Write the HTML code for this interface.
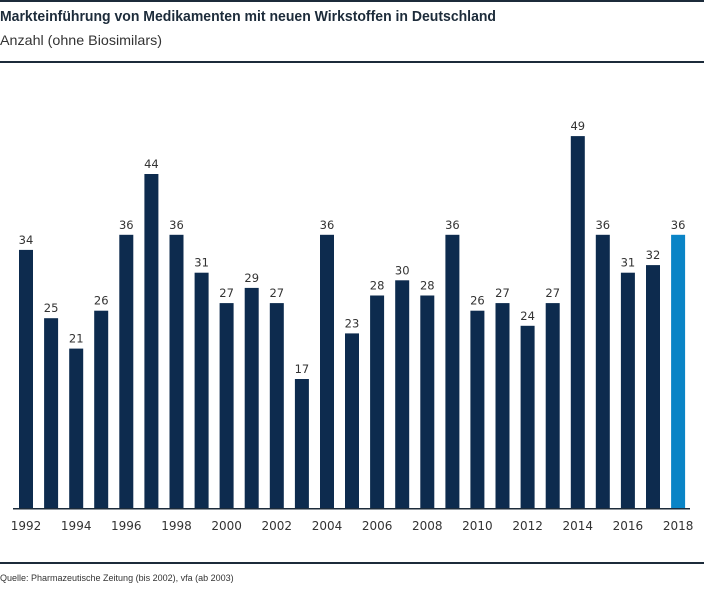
<!DOCTYPE html>
<html><head><meta charset="utf-8"><style>
body{margin:0;background:#fff;}
svg{display:block;}
.v{font-family:"DejaVu Sans","Liberation Sans",sans-serif;font-size:11.5px;fill:#333;text-anchor:middle;}
.y{font-family:"DejaVu Sans","Liberation Sans",sans-serif;font-size:12px;fill:#333;text-anchor:middle;}
</style></head><body>
<svg width="704" height="600" viewBox="0 0 704 600" xmlns="http://www.w3.org/2000/svg">
<rect x="0" y="0" width="704" height="2" fill="#1c2b3a"/>
<text x="0" y="21" font-size="14.5" font-weight="bold" fill="#1c2b3a" font-family="Liberation Sans, sans-serif" textLength="496" lengthAdjust="spacingAndGlyphs">Markteinführung von Medikamenten mit neuen Wirkstoffen in Deutschland</text>
<text x="0" y="45" font-size="14" fill="#333" font-family="Liberation Sans, sans-serif" textLength="162" lengthAdjust="spacingAndGlyphs">Anzahl (ohne Biosimilars)</text>
<rect x="0" y="61" width="704" height="2" fill="#1c2b3a"/>
<g fill="#0d2b4e">
<rect x="19" y="249.9" width="14" height="258.1"/>
<rect x="44.1" y="318.2" width="14" height="189.8"/>
<rect x="69.2" y="348.6" width="14" height="159.4"/>
<rect x="94.2" y="310.7" width="14" height="197.3"/>
<rect x="119.3" y="234.8" width="14" height="273.2"/>
<rect x="144.4" y="174" width="14" height="334"/>
<rect x="169.5" y="234.8" width="14" height="273.2"/>
<rect x="194.6" y="272.7" width="14" height="235.3"/>
<rect x="219.6" y="303.1" width="14" height="204.9"/>
<rect x="244.7" y="287.9" width="14" height="220.1"/>
<rect x="269.8" y="303.1" width="14" height="204.9"/>
<rect x="294.9" y="379" width="14" height="129"/>
<rect x="320" y="234.8" width="14" height="273.2"/>
<rect x="345" y="333.4" width="14" height="174.6"/>
<rect x="370.1" y="295.5" width="14" height="212.5"/>
<rect x="395.2" y="280.3" width="14" height="227.7"/>
<rect x="420.3" y="295.5" width="14" height="212.5"/>
<rect x="445.4" y="234.8" width="14" height="273.2"/>
<rect x="470.4" y="310.7" width="14" height="197.3"/>
<rect x="495.5" y="303.1" width="14" height="204.9"/>
<rect x="520.6" y="325.8" width="14" height="182.2"/>
<rect x="545.7" y="303.1" width="14" height="204.9"/>
<rect x="570.8" y="136.1" width="14" height="371.9"/>
<rect x="595.8" y="234.8" width="14" height="273.2"/>
<rect x="620.9" y="272.7" width="14" height="235.3"/>
<rect x="646" y="265.1" width="14" height="242.9"/>
</g>
<rect x="671.1" y="234.8" width="14" height="273.2" fill="#0a84c6"/>
<g class="v">
<text class="v" x="26" y="243.9">34</text>
<text class="v" x="51.1" y="312.2">25</text>
<text class="v" x="76.2" y="342.6">21</text>
<text class="v" x="101.2" y="304.7">26</text>
<text class="v" x="126.3" y="228.8">36</text>
<text class="v" x="151.4" y="168">44</text>
<text class="v" x="176.5" y="228.8">36</text>
<text class="v" x="201.6" y="266.7">31</text>
<text class="v" x="226.6" y="297.1">27</text>
<text class="v" x="251.7" y="281.9">29</text>
<text class="v" x="276.8" y="297.1">27</text>
<text class="v" x="301.9" y="373">17</text>
<text class="v" x="327" y="228.8">36</text>
<text class="v" x="352" y="327.4">23</text>
<text class="v" x="377.1" y="289.5">28</text>
<text class="v" x="402.2" y="274.3">30</text>
<text class="v" x="427.3" y="289.5">28</text>
<text class="v" x="452.4" y="228.8">36</text>
<text class="v" x="477.4" y="304.7">26</text>
<text class="v" x="502.5" y="297.1">27</text>
<text class="v" x="527.6" y="319.8">24</text>
<text class="v" x="552.7" y="297.1">27</text>
<text class="v" x="577.8" y="130.1">49</text>
<text class="v" x="602.8" y="228.8">36</text>
<text class="v" x="627.9" y="266.7">31</text>
<text class="v" x="653" y="259.1">32</text>
<text class="v" x="678.1" y="228.8">36</text>
</g>
<rect x="13" y="508" width="677" height="1.5" fill="#1c2b3a"/>
<text class="y" x="26" y="530">1992</text>
<text class="y" x="76.2" y="530">1994</text>
<text class="y" x="126.3" y="530">1996</text>
<text class="y" x="176.5" y="530">1998</text>
<text class="y" x="226.6" y="530">2000</text>
<text class="y" x="276.8" y="530">2002</text>
<text class="y" x="327" y="530">2004</text>
<text class="y" x="377.1" y="530">2006</text>
<text class="y" x="427.3" y="530">2008</text>
<text class="y" x="477.4" y="530">2010</text>
<text class="y" x="527.6" y="530">2012</text>
<text class="y" x="577.8" y="530">2014</text>
<text class="y" x="627.9" y="530">2016</text>
<text class="y" x="678.1" y="530">2018</text>
<rect x="0" y="562" width="704" height="2" fill="#1c2b3a"/>
<text x="0" y="581" font-size="9" fill="#333" font-family="Liberation Sans, sans-serif">Quelle: Pharmazeutische Zeitung (bis 2002), vfa (ab 2003)</text>
</svg>
</body></html>
